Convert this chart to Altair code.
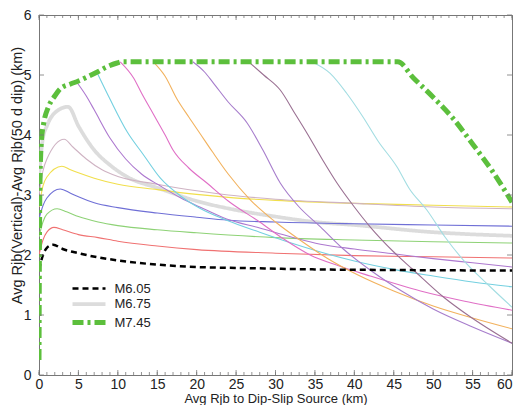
import altair as alt
import pandas as pd

# ---------------- data ----------------
# legend series
m605_x = [0, 0.5, 1, 1.8, 3, 5, 7.5, 10, 12.5, 15, 20, 27, 35, 45, 60]
m605_y = [1.75, 2.0, 2.12, 2.17, 2.1, 2.03, 1.96, 1.91, 1.87, 1.84, 1.8, 1.78, 1.76, 1.75, 1.74]

m675_x = [0, 0.5, 1, 2, 3.7, 5, 7, 9, 11.5, 15, 20, 25, 30, 35, 40, 50, 60]
m675_y = [3.3, 3.95, 4.15, 4.37, 4.47, 4.15, 3.75, 3.5, 3.28, 3.12, 2.9, 2.75, 2.64, 2.55, 2.5, 2.38, 2.32]

m745_x = [0, 0.1, 0.3, 0.6, 1.2, 2, 2.7, 4, 5, 6, 7.4, 8.5, 9.9, 10.5, 20, 30, 40, 45.5,
          47.5, 50, 52.5, 55, 57.5, 60]
m745_y = [0.25, 3.0, 3.9, 4.2, 4.47, 4.65, 4.77, 4.85, 4.9, 4.96, 5.05, 5.13, 5.2, 5.22, 5.22, 5.22, 5.22, 5.22,
          4.95, 4.63, 4.28, 3.85, 3.4, 2.88]

# unlabeled curves
red_x = [0, 0.5, 1, 1.9, 3, 5, 7.5, 10, 15, 20, 30, 40, 50, 60]
red_y = [2.0, 2.25, 2.38, 2.46, 2.42, 2.34, 2.29, 2.23, 2.15, 2.09, 2.03, 1.99, 1.97, 1.95]

grn_x = [0, 0.5, 1, 2.3, 3.5, 5, 7.5, 10, 15, 20, 30, 40, 50, 60]
grn_y = [2.3, 2.55, 2.68, 2.77, 2.72, 2.64, 2.55, 2.49, 2.42, 2.37, 2.29, 2.25, 2.22, 2.2]

blu_x = [0, 0.5, 1, 2.7, 4, 5, 7, 10, 15, 20, 24, 30, 40, 50, 60]
blu_y = [2.6, 2.82, 2.95, 3.1, 3.03, 2.97, 2.87, 2.79, 2.7, 2.63, 2.58, 2.55, 2.52, 2.5, 2.48]

yel_x = [0, 0.5, 1, 2.9, 4, 5, 7, 10, 15, 20, 24, 30, 40, 50, 60]
yel_y = [2.8, 3.15, 3.3, 3.48, 3.42, 3.37, 3.28, 3.18, 3.09, 3.01, 2.96, 2.91, 2.86, 2.83, 2.8]

ros_x = [0, 0.5, 1, 3.2, 4.3, 6, 8, 10, 15, 20, 24, 30, 40, 50, 60]
ros_y = [3.0, 3.4, 3.6, 3.93, 3.8, 3.6, 3.42, 3.31, 3.18, 3.07, 3.0, 2.93, 2.86, 2.8, 2.77]

pua_x = [4.8, 6, 7, 9, 11, 13, 15.4, 18, 20.4, 23.8, 28, 32, 35.7, 40, 45, 50, 55, 60]
pua_y = [4.88, 4.65, 4.42, 3.95, 3.6, 3.35, 3.15, 2.95, 2.8, 2.6, 2.45, 2.3, 2.18, 2.1, 2.02, 1.94, 1.87, 1.8]

cya_x = [7.4, 9, 11.2, 13.2, 15.4, 18, 20.4, 23.8, 28, 32, 35.7, 40, 45, 50, 55, 60]
cya_y = [5.03, 4.6, 4.05, 3.68, 3.28, 2.98, 2.78, 2.58, 2.38, 2.2, 2.05, 1.9, 1.76, 1.65, 1.55, 1.47]

mag_x = [10.3, 12, 13, 14.5, 16, 17, 19, 21.3, 24, 28, 31, 34.4, 38, 42, 48.4, 54, 60]
mag_y = [5.22, 4.95, 4.7, 4.35, 4.0, 3.75, 3.45, 3.2, 2.9, 2.55, 2.27, 2.0, 1.82, 1.65, 1.4, 1.23, 1.08]

ora_x = [14.5, 16, 17.5, 19, 20.4, 22, 24, 26.8, 30, 33.1, 36.5, 40.4, 45, 50, 55, 60]
ora_y = [5.22, 4.98, 4.6, 4.3, 4.03, 3.72, 3.35, 2.92, 2.55, 2.25, 1.95, 1.67, 1.4, 1.15, 0.95, 0.77]

pub_x = [19.5, 21, 22.1, 24, 26.4, 28.4, 30.6, 33, 35.7, 38.6, 42, 46, 50, 55, 60]
pub_y = [5.22, 5.05, 4.87, 4.55, 4.2, 3.75, 3.2, 2.8, 2.47, 2.1, 1.75, 1.4, 1.1, 0.8, 0.53]

brp_x = [26.6, 28.5, 30.6, 32.5, 34, 36, 37.8, 40, 42, 45, 47.5, 51.3, 54.7, 60]
brp_y = [5.22, 5.0, 4.75, 4.35, 4.03, 3.58, 3.2, 2.8, 2.47, 2.05, 1.75, 1.3, 0.97, 0.53]

cyb_x = [34.6, 36.9, 39, 41.1, 43, 45.4, 47, 49.2, 51.5, 53.8, 57, 60]
cyb_y = [5.22, 5.03, 4.7, 4.3, 3.9, 3.47, 3.1, 2.75, 2.3, 1.92, 1.5, 1.13]

legend_names = ["M6.05", "M6.75", "M7.45"]
legend_colors = ["#000000", "#dcdcdc", "#5cbf3c"]
legend_dash = [[6, 4], [1, 0], [11, 4, 3, 4]]
legend_width = [2.5, 5, 3.2]

thin_names = ["red", "green", "blue", "yellow", "rosy", "purpleA", "cyanA",
              "magenta", "orange", "purpleB", "brownpurple", "cyanB"]
thin_colors = ["#f07272", "#8ed276", "#6f6fd6", "#f1df4c", "#cfb3c3", "#ad78cf",
               "#74d0e0", "#e06fc6", "#f2b25e", "#a77dcc", "#9a7092", "#a3dde2"]
thin_data = [(red_x, red_y), (grn_x, grn_y), (blu_x, blu_y), (yel_x, yel_y),
             (ros_x, ros_y), (pua_x, pua_y), (cya_x, cya_y), (mag_x, mag_y),
             (ora_x, ora_y), (pub_x, pub_y), (brp_x, brp_y), (cyb_x, cyb_y)]

x_major = list(range(0, 61, 5))
x_minor = list(range(0, 61, 1))
y_major = list(range(0, 7))

# ---------------- tables ----------------
rows = []
for n, (xs, ys) in zip(legend_names, [(m605_x, m605_y), (m675_x, m675_y), (m745_x, m745_y)]):
    rows += [{"x": a, "y": b, "name": n} for a, b in zip(xs, ys)]
leg_df = pd.DataFrame(rows)

rows = []
for n, (xs, ys) in zip(thin_names, thin_data):
    rows += [{"x": a, "y": b, "series": n} for a, b in zip(xs, ys)]
thin_df = pd.DataFrame(rows)

FONT = "Liberation Sans"
xscale = alt.Scale(domain=[0, 60], nice=False, zero=False)
yscale = alt.Scale(domain=[0, 6], nice=False, zero=False)

XT = "Avg Rjb to Dip-Slip Source (km)"
YT = "Avg Rjb(Vertical)-Avg Rjb(50 d dip) (km)"
x_axis = alt.Axis(values=x_major, format="d", tickSize=0, domain=False, grid=False,
                  labelPadding=2, labelFontSize=14, labelFont=FONT, labelColor="#222",
                  labelFlush=True,
                  labelOffset={"condition": {"test": "datum.value == 0", "value": -4}, "value": 0},
                  titleFontSize=13, titleFont=FONT, titleX=236.5, titleY=23,
                  titleBaseline="middle", titleAlign="center",
                  titleColor="#222", titleFontWeight="normal")
y_axis = alt.Axis(values=y_major, format="d", tickSize=0, domain=False, grid=False,
                  labelPadding=8, labelFontSize=14, labelFont=FONT, labelColor="#222",
                  titleFontSize=14.5, titleX=-18, titleY=160, titleAngle=270,
                  titleBaseline="alphabetic", titleAlign="center",
                  titleFont=FONT, titleColor="#222", titleFontWeight="normal")

legend = alt.Legend(title=None, orient="none", legendX=31, legendY=267, padding=0,
                    symbolType="M-3.3,0H3.3", symbolSize=100, symbolOffset=11.5,
                    labelOffset=18, rowPadding=0, labelFontSize=13, labelFont=FONT,
                    labelColor="#222")

def X(field):
    return alt.X(field, scale=xscale, axis=x_axis, title=XT)

def Y(field):
    return alt.Y(field, scale=yscale, axis=y_axis, title=YT)

def legend_layer(names):
    return alt.Chart(leg_df).transform_filter(
        alt.FieldOneOfPredicate(field="name", oneOf=names)
    ).mark_line(interpolate="monotone", clip=True).encode(
        x=X("x:Q"),
        y=Y("y:Q"),
        color=alt.Color("name:N", scale=alt.Scale(domain=legend_names, range=legend_colors),
                        legend=legend),
        strokeDash=alt.StrokeDash("name:N", scale=alt.Scale(domain=legend_names, range=legend_dash),
                                  legend=legend),
        strokeWidth=alt.StrokeWidth("name:N", scale=alt.Scale(domain=legend_names, range=legend_width),
                                    legend=legend),
    )

gray_layer = legend_layer(["M6.75"])
top_layer = legend_layer(["M6.05", "M7.45"])

thin_layer = alt.Chart(thin_df).mark_line(interpolate="monotone", strokeWidth=1.1, clip=True).encode(
    x=X("x:Q"),
    y=Y("y:Q"),
    stroke=alt.Stroke("series:N", scale=alt.Scale(domain=thin_names, range=thin_colors), legend=None),
)

H = 360
W = 473
tick_color = "#777"
xmin_df = pd.DataFrame({"v": x_minor})
xmaj_df = pd.DataFrame({"v": x_major})
ymaj_df = pd.DataFrame({"v": y_major})

def xticks(df, length):
    bot = alt.Chart(df).mark_rule(color=tick_color, strokeWidth=0.8).encode(
        x=X("v:Q"), y=alt.value(H), y2=alt.value(H - length))
    top = alt.Chart(df).mark_rule(color=tick_color, strokeWidth=0.8).encode(
        x=X("v:Q"), y=alt.value(0), y2=alt.value(length))
    return bot + top

left_ticks = alt.Chart(ymaj_df).mark_rule(color=tick_color, strokeWidth=0.8).encode(
    y=Y("v:Q"), x=alt.value(0), x2=alt.value(5))
right_ticks = alt.Chart(ymaj_df).mark_rule(color=tick_color, strokeWidth=0.8).encode(
    y=Y("v:Q"), x=alt.value(W), x2=alt.value(W - 5))

chart = alt.layer(
    gray_layer, thin_layer, top_layer,
    xticks(xmin_df, 3), xticks(xmaj_df, 5), left_ticks, right_ticks,
).properties(
    width=W, height=H,
    autosize=alt.AutoSizeParams(type="none"),
    padding={"left": 31, "top": 7, "right": 1, "bottom": 30},
    background="white",
).configure_view(stroke="#777", strokeWidth=1)

chart.save("out.html", embed_options={"renderer": "svg", "actions": False})
